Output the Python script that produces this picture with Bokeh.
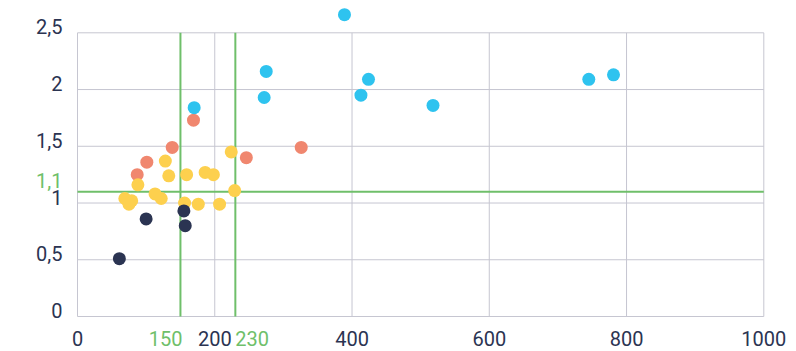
from bokeh.plotting import figure
from bokeh.models import Range1d
from bokeh.core.properties import value
from bokeh.embed import file_html
from bokeh.resources import INLINE

# ---- data ----
x_ticks = [0, 200, 400, 600, 800, 1000]
x_tick_labels = ["0", "200", "400", "600", "800", "1000"]
y_ticks = [0, 0.5, 1, 1.5, 2, 2.5]
y_tick_labels = ["0", "0,5", "1", "1,5", "2", "2,5"]
x_ref = [150, 230]
x_ref_labels = ["150", "230"]
y_ref = 1.1
y_ref_label = "1,1"

blue_x = [170, 272, 275, 389, 424, 413, 518, 745, 781]
blue_y = [1.84, 1.93, 2.16, 2.66, 2.09, 1.95, 1.86, 2.09, 2.13]
salmon_x = [169, 138, 101, 87, 246, 326]
salmon_y = [1.73, 1.49, 1.36, 1.25, 1.40, 1.49]
yellow_x = [128, 133, 159, 186, 198, 224, 88, 229, 69, 79, 75, 113, 122, 156, 176, 207]
yellow_y = [1.37, 1.24, 1.25, 1.27, 1.25, 1.45, 1.16, 1.11, 1.04, 1.02, 0.99, 1.08, 1.04, 1.00, 0.99, 0.99]
navy_x = [155, 100, 157, 61]
navy_y = [0.93, 0.86, 0.80, 0.51]

# ---- style / layout ----
BLUE = "#2ec3ef"
SALMON = "#f0876f"
YELLOW = "#fdd04e"
NAVY = "#2b3452"
GREEN = "#6fbf6a"
GRID = "#c6c6d1"
FONT = "Roboto"
FSIZE = "20px"

W, H = 796, 351
# plot-area pixel positions of the axis extremes
PX_LEFT, PX_RIGHT = 77.0, 763.3     # x = 0 .. 1000
PX_BOTTOM, PX_TOP = 316.0, 32.3     # y = 0 .. 2.5
sx = (PX_RIGHT - PX_LEFT) / (x_ticks[-1] - x_ticks[0])
sy = (PX_BOTTOM - PX_TOP) / (y_ticks[-1] - y_ticks[0])
x0 = x_ticks[0] - PX_LEFT / sx
x1 = x_ticks[0] + (W - PX_LEFT) / sx
y0 = y_ticks[0] - (H - PX_BOTTOM) / sy
y1 = y_ticks[0] + PX_BOTTOM / sy

p = figure(width=W, height=H, output_backend="svg", toolbar_location=None,
           x_range=Range1d(x0, x1), y_range=Range1d(y0, y1),
           min_border=0, min_border_left=0, min_border_right=0,
           min_border_top=0, min_border_bottom=0)
p.outline_line_color = None
p.axis.visible = False
p.grid.visible = False

# grid lines (limited to the plot area 0..1000 x 0..2.5)
n_x, n_y = len(x_ticks), len(y_ticks)
p.segment(x0=x_ticks, y0=[y_ticks[0]] * n_x, x1=x_ticks, y1=[y_ticks[-1]] * n_x,
          line_color=GRID, line_width=1)
p.segment(x0=[x_ticks[0]] * n_y, y0=y_ticks, x1=[x_ticks[-1]] * n_y, y1=y_ticks,
          line_color=GRID, line_width=1)

# reference lines
p.segment(x0=x_ref, y0=[y_ticks[0]] * len(x_ref), x1=x_ref, y1=[y_ticks[-1]] * len(x_ref),
          line_color=GREEN, line_width=2)
p.segment(x0=[x_ticks[0]], y0=[y_ref], x1=[x_ticks[-1]], y1=[y_ref],
          line_color=GREEN, line_width=2)

# points
SIZE = 13
p.scatter(salmon_x, salmon_y, size=SIZE, color=SALMON, line_color=None)
p.scatter(yellow_x, yellow_y, size=SIZE, color=YELLOW, line_color=None)
p.scatter(navy_x, navy_y, size=SIZE, color=NAVY, line_color=None)
p.scatter(blue_x, blue_y, size=SIZE, color=BLUE, line_color=None)

# tick labels (as text glyphs)
x_lab_y = y_ticks[0] - (338 - PX_BOTTOM) / sy
txt = dict(text_font=value(FONT), text_font_size=value(FSIZE))
p.text(x=x_ticks, y=[x_lab_y] * len(x_ticks), text=x_tick_labels,
       text_align="center", text_baseline="middle", text_color=NAVY, **txt)
p.text(x=[x_ref[0]], y=[x_lab_y], text=[x_ref_labels[0]], x_offset=2,
       text_align="right", text_baseline="middle", text_color=GREEN, **txt)
p.text(x=[x_ref[1]], y=[x_lab_y], text=[x_ref_labels[1]], x_offset=0,
       text_align="left", text_baseline="middle", text_color=GREEN, **txt)

y_lab_x = x_ticks[0] - 15 / sx
p.text(x=[y_lab_x] * len(y_ticks), y=[t + 6 / sy for t in y_ticks], text=y_tick_labels,
       text_align="right", text_baseline="middle", text_color=NAVY, **txt)
p.text(x=[y_lab_x], y=[y_ref + 11 / sy], text=[y_ref_label],
       text_align="right", text_baseline="middle", text_color=GREEN, **txt)

open("out.html", "w").write(file_html(p, INLINE))
